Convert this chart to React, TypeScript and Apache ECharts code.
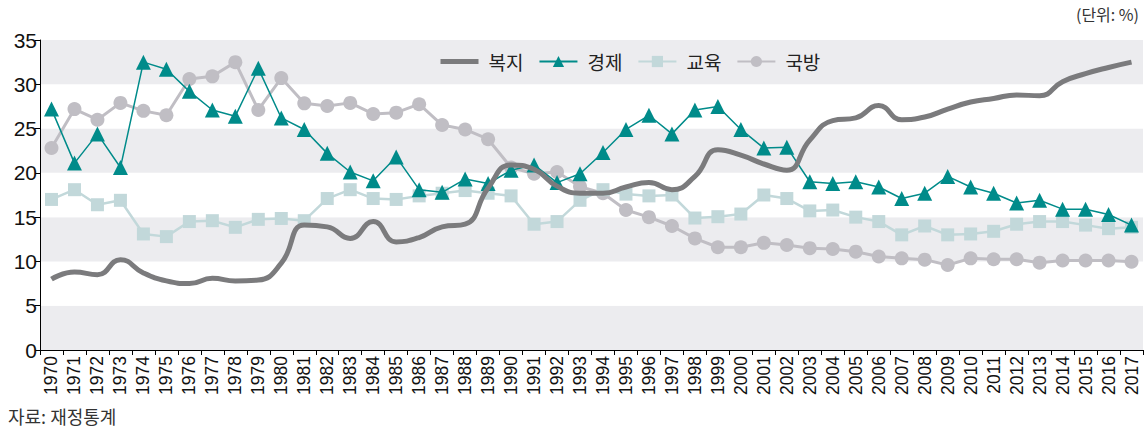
import React, { useEffect, useRef } from "react";
import * as echarts from "echarts";

const years = [
  "1970","1971","1972","1973","1974","1975","1976","1977","1978","1979",
  "1980","1981","1982","1983","1984","1985","1986","1987","1988","1989",
  "1990","1991","1992","1993","1994","1995","1996","1997","1998","1999",
  "2000","2001","2002","2003","2004","2005","2006","2007","2008","2009",
  "2010","2011","2012","2013","2014","2015","2016","2017",
];

const welfare = [
  8.0, 8.8, 8.5, 10.2, 8.7, 7.8, 7.5, 8.1, 7.8, 7.9,
  9.8, 14.1, 13.9, 12.6, 14.5, 12.2, 12.7, 13.9, 14.2, 18.3,
  20.9, 20.4, 18.5, 17.7, 17.7, 18.4, 18.9, 18.1, 19.6, 22.6,
  22.0, 21.0, 20.3, 23.7, 25.9, 26.2, 27.6, 26.0, 26.3, 27.2,
  28.0, 28.4, 28.8, 28.7, 30.3, 31.2, 31.9, 32.5,
];

const economy = [
  27.2, 21.1, 24.4, 20.6, 32.5, 31.7, 29.2, 27.1, 26.4, 31.8,
  26.2, 24.9, 22.2, 20.1, 19.1, 21.8, 18.1, 17.8, 19.3, 18.8,
  20.3, 20.9, 18.9, 19.9, 22.3, 24.9, 26.5, 24.4, 27.1, 27.5,
  24.9, 22.8, 22.9, 19.0, 18.8, 19.0, 18.4, 17.1, 17.7, 19.6,
  18.4, 17.7, 16.6, 16.9, 15.9, 15.9, 15.3, 14.1,
];

const education = [
  17.0, 18.1, 16.4, 16.9, 13.1, 12.8, 14.5, 14.6, 13.85, 14.75,
  14.85, 14.6, 17.1, 18.1, 17.1, 17.0, 17.4, 17.7, 18.0, 17.7,
  17.4, 14.2, 14.5, 16.9, 18.1, 17.6, 17.4, 17.5, 14.9, 15.05,
  15.35, 17.5, 17.1, 15.7, 15.8, 15.0, 14.5, 13.0, 14.0, 13.0,
  13.1, 13.4, 14.2, 14.5, 14.5, 14.1, 13.7, 13.85,
];

const defense = [
  22.8, 27.2, 26.0, 27.9, 27.0, 26.5, 30.6, 30.9, 32.5, 27.1,
  30.7, 27.85, 27.55, 27.9, 26.65, 26.8, 27.75, 25.4, 24.9, 23.8,
  20.6, 19.9, 20.1, 18.45, 17.7, 15.8, 15.0, 14.0, 12.6, 11.6,
  11.6, 12.1, 11.85, 11.5, 11.4, 11.1, 10.55, 10.35, 10.2, 9.6,
  10.35, 10.25, 10.25, 9.86, 10.1, 10.1, 10.1, 9.97,
];

const seriesNames = ["복지", "경제", "교육", "국방"];
const unitText = "(단위: %)";
const sourceText = "자료: 재정통계";

export default function App() {
  const ref = useRef<HTMLDivElement>(null);
  useEffect(() => {
    if (!ref.current) return;
    const chart = echarts.init(ref.current, null, { renderer: "svg" });
    const sans = "'Liberation Sans', Arial, sans-serif";
    const kr = "'Noto Sans CJK KR', sans-serif";
    chart.setOption({
      animation: false,
      backgroundColor: "#ffffff",
      textStyle: { fontFamily: sans },
      grid: { left: 40, right: 5, top: 40, bottom: 86, containLabel: false },
      legend: {
        data: [
          { name: seriesNames[0], itemStyle: { opacity: 0 }, lineStyle: { width: 5 } },
          seriesNames[1],
          seriesNames[2],
          seriesNames[3],
        ],
        left: 433,
        top: 47,
        itemWidth: 38,
        itemHeight: 14,
        itemGap: 15,
        textStyle: { fontFamily: kr, fontSize: 19, color: "#222", padding: [0, 0, 0, 5] },
      },
      graphic: [
        {
          type: "text",
          right: 9,
          top: 6,
          style: { text: unitText, fontFamily: kr, fontSize: 16, fill: "#333" },
        },
        {
          type: "text",
          left: 8,
          top: 407,
          style: { text: sourceText, fontFamily: kr, fontSize: 18, fill: "#333" },
        },
      ],
      xAxis: {
        type: "category",
        data: years,
        boundaryGap: true,
        axisLine: { show: true, lineStyle: { color: "#000", width: 1 } },
        axisTick: { show: true, length: 5, lineStyle: { color: "#000" } },
        axisLabel: {
          rotate: 90,
          interval: 0,
          fontSize: 17.5,
          color: "#111",
          margin: 6,
          fontFamily: sans,
        },
        splitLine: { show: false },
      },
      yAxis: {
        type: "value",
        min: 0,
        max: 35,
        interval: 5,
        axisLine: { show: true, lineStyle: { color: "#000", width: 1 } },
        axisTick: { show: true, length: 5, lineStyle: { color: "#000" } },
        axisLabel: { fontSize: 21, color: "#111", margin: 3, fontFamily: sans },
        splitLine: { show: false },
        splitArea: { show: true, areaStyle: { color: ["#ececef", "#ffffff"] } },
      },
      series: [
        {
          name: seriesNames[0],
          type: "line",
          data: welfare,
          smooth: 0.5,
          symbol: "none",
          lineStyle: { color: "#7b7b7d", width: 5 },
          itemStyle: { color: "#7b7b7d" },
          z: 5,
        },
        {
          name: seriesNames[1],
          type: "line",
          data: economy,
          symbol: "triangle",
          symbolSize: 15,
          lineStyle: { color: "#008b8a", width: 1.5 },
          itemStyle: { color: "#008b8a" },
          z: 4,
        },
        {
          name: seriesNames[2],
          type: "line",
          data: education,
          symbol: "rect",
          symbolSize: 13,
          lineStyle: { color: "#c2d8da", width: 2.5 },
          itemStyle: { color: "#c2d8da" },
          z: 3,
        },
        {
          name: seriesNames[3],
          type: "line",
          data: defense,
          symbol: "circle",
          symbolSize: 14,
          lineStyle: { color: "#c0bec4", width: 3 },
          itemStyle: { color: "#c0bec4" },
          z: 2,
        },
      ],
    });
    return () => chart.dispose();
  }, []);
  return <div ref={ref} style={{ width: 1148, height: 436, position: "absolute", left: 0, top: 0 }} />;
}
